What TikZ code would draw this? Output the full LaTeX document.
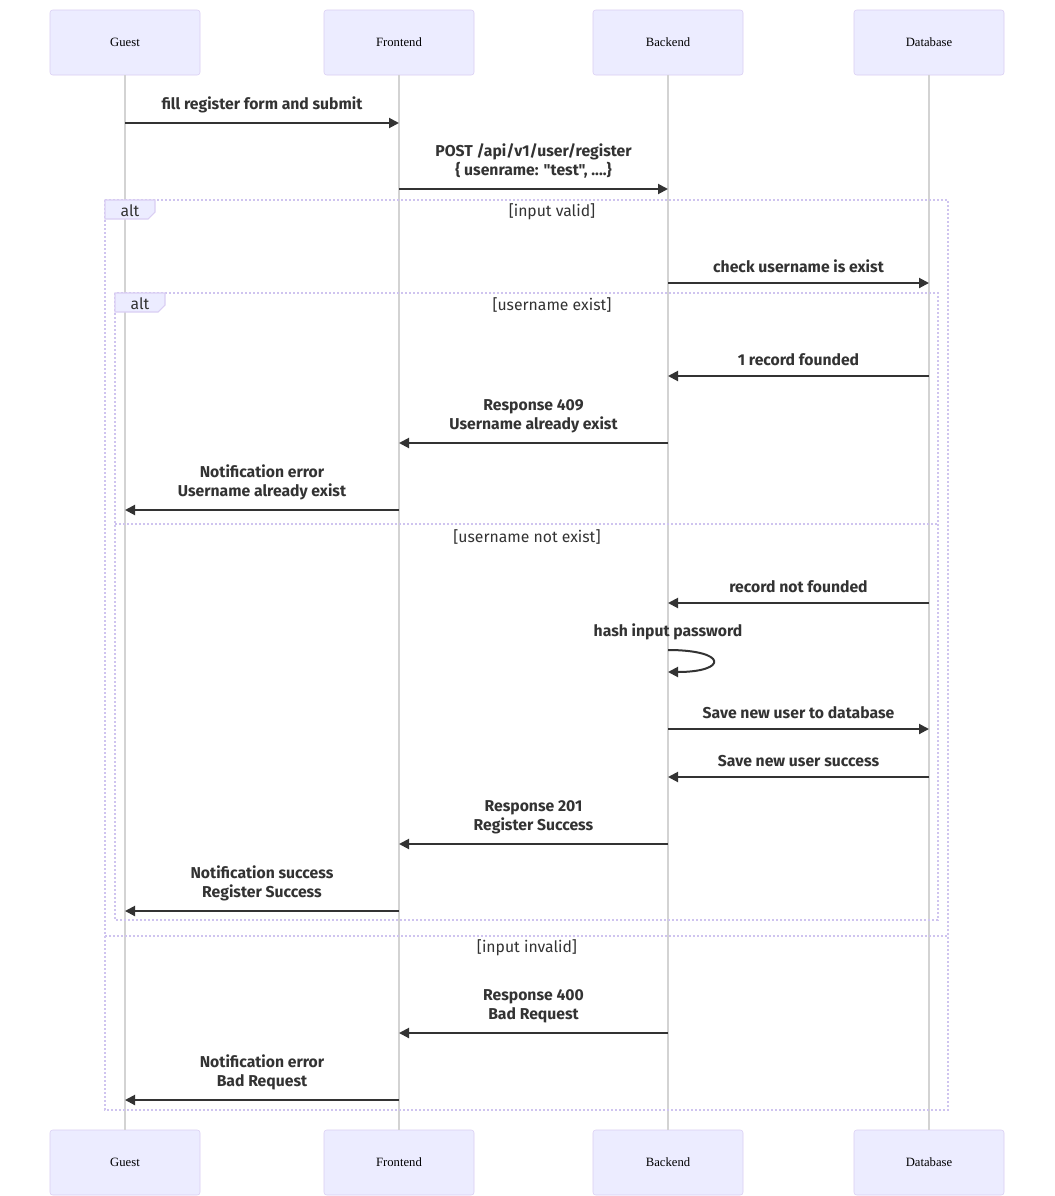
\documentclass[tikz,border=0pt]{standalone}
\usepackage{fontspec}
\setmainfont{Liberation Serif}
\newfontfamily\msgfont{Fira Sans}
\usepackage{tikz}
\usetikzlibrary{arrows.meta,positioning}
\definecolor{actorfill}{HTML}{ECECFF}
\definecolor{actorline}{HTML}{DACEF3}
\definecolor{lifecol}{HTML}{D3D3D3}
\definecolor{framecol}{HTML}{CFC4EF}
\definecolor{ink}{HTML}{333333}
\tikzset{
  actor/.style={draw=actorline, fill=actorfill, rounded corners=2pt, minimum width=112.5pt, minimum height=48.75pt, inner sep=0pt, font=\fontsize{9.5}{11}\selectfont},
  lifeline/.style={draw=lifecol, line width=1.1pt},
  msg/.style={draw=ink, line width=1.5pt, -{Triangle[length=7.5pt, width=7.5pt]}},
  msglabel/.style={anchor=south, inner sep=0pt, yshift=7pt, align=center, text=ink, font=\msgfont\bfseries\fontsize{11.8}{14.25}\selectfont},
  frame/.style={draw=framecol, line width=1.1pt, dash pattern=on 1.5pt off 1.5pt},
  tab/.style={draw=actorline, fill=actorfill, line width=0.8pt},
  guard/.style={inner sep=0pt, text=ink, font=\msgfont\fontsize{11.8}{13}\selectfont}}

\begin{document}
\begin{tikzpicture}[x=0.75pt, y=-0.75pt]
  \fill[white] (0,0) rectangle (1054,1196);
  \useasboundingbox (0,0) rectangle (1054,1196);
  % participants, top and bottom
  \node[actor] (guest) at (125,42.5) {Guest};
  \node[actor] (front) at (399,42.5) {Frontend};
  \node[actor] (back) at (668,42.5) {Backend};
  \node[actor] (db) at (929,42.5) {Database};
  \node[actor] (guestb) at (125,1162.5) {Guest};
  \node[actor] (frontb) at (399,1162.5) {Frontend};
  \node[actor] (backb) at (668,1162.5) {Backend};
  \node[actor] (dbb) at (929,1162.5) {Database};
  \draw[lifeline] (guest.south) -- (guestb.north);
  \draw[lifeline] (front.south) -- (frontb.north);
  \draw[lifeline] (back.south) -- (backb.north);
  \draw[lifeline] (db.south) -- (dbb.north);

  % alt frames
  \draw[frame] (105,200) rectangle (948,1110);
  \draw[frame] (105,936) -- (948,936);
  \draw[tab] (105,200) -- (155,200) -- (155,212) -- (148,219) -- (105,219) -- cycle;
  \node[guard] (alt1) at (130,211) {alt};
  \node[guard] (valid) at (552,212) {[input valid]};
  \node[guard] (invalid) at (527,948) {[input invalid]};
  \draw[frame] (115,293) rectangle (938,920);
  \draw[frame] (115,524) -- (938,524);
  \draw[tab] (115,293) -- (165,293) -- (165,305) -- (158,312) -- (115,312) -- cycle;
  \node[guard] (alt2) at (140,304) {alt};
  \node[guard] (exist) at (552,305) {[username exist]};
  \node[guard] (notexist) at (527,537) {[username not exist]};

  % messages
  \draw[msg] (guest |- 0,123) -- node[msglabel] {fill register form and submit} (front |- 0,123);
  \draw[msg] (front |- 0,189) -- node[msglabel] {POST /api/v1/user/register\\\{ usenrame: "test", ....\}} (back |- 0,189);
  \draw[msg] (back |- 0,283) -- node[msglabel] {check username is exist} (db |- 0,283);
  \draw[msg] (db |- 0,376) -- node[msglabel] {1 record founded} (back |- 0,376);
  \draw[msg] (back |- 0,443) -- node[msglabel] {Response 409\\Username already exist} (front |- 0,443);
  \draw[msg] (front |- 0,510) -- node[msglabel] {Notification error\\Username already exist} (guest |- 0,510);
  \draw[msg] (db |- 0,603) -- node[msglabel] {record not founded} (back |- 0,603);
  \node[msglabel] (hash) at (668,650) {hash input password};
  \draw[msg] (back |- 0,650) .. controls +(60,0) and +(60,0) .. (back |- 0,672);
  \draw[msg] (back |- 0,729) -- node[msglabel] {Save new user to database} (db |- 0,729);
  \draw[msg] (db |- 0,777) -- node[msglabel] {Save new user success} (back |- 0,777);
  \draw[msg] (back |- 0,844) -- node[msglabel] {Response 201\\Register Success} (front |- 0,844);
  \draw[msg] (front |- 0,911) -- node[msglabel] {Notification success\\Register Success} (guest |- 0,911);
  \draw[msg] (back |- 0,1033) -- node[msglabel] {Response 400\\Bad Request} (front |- 0,1033);
  \draw[msg] (front |- 0,1100) -- node[msglabel] {Notification error\\Bad Request} (guest |- 0,1100);
\end{tikzpicture}
\end{document}
